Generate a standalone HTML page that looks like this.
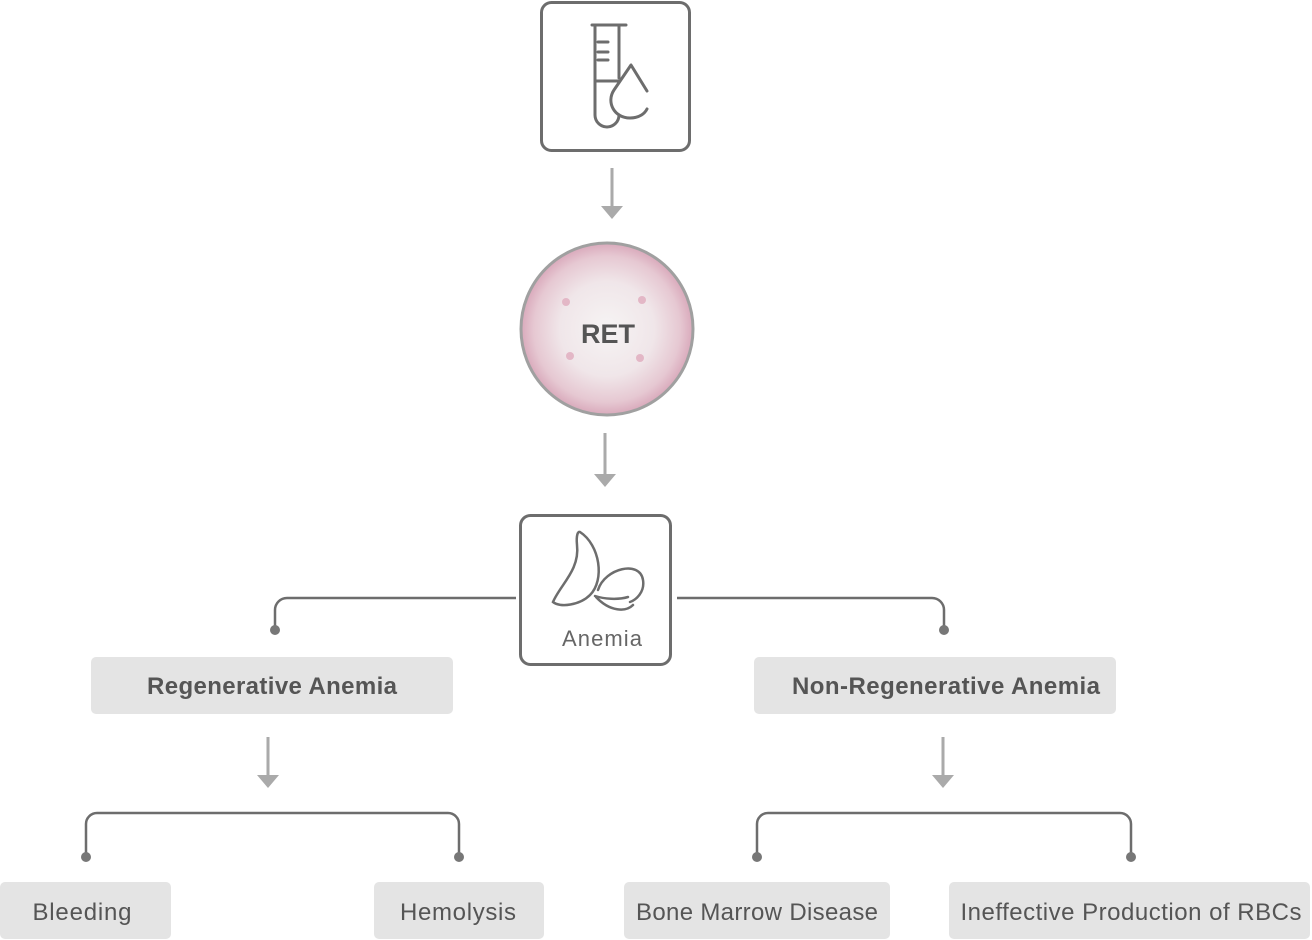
<!DOCTYPE html>
<html><head><meta charset="utf-8"><style>
html,body{margin:0;padding:0;background:#fff;}
svg{display:block;}
text{font-family:"Liberation Sans",sans-serif;}
</style></head><body>
<svg width="1312" height="940" viewBox="0 0 1312 940" xmlns="http://www.w3.org/2000/svg">
<defs>
<radialGradient id="g" cx="50%" cy="50%" r="50%">
<stop offset="0" stop-color="#f6f4f4"/>
<stop offset="0.55" stop-color="#f0e6e9"/>
<stop offset="0.85" stop-color="#e6c8d2"/>
<stop offset="1" stop-color="#d9a9bb"/>
</radialGradient>
</defs>
<rect x="541.5" y="2.5" width="148" height="148" rx="10" fill="#fff" stroke="#6d6d6d" stroke-width="3"/>
<g fill="none" stroke="#6d6d6d" stroke-width="3" stroke-linecap="round" stroke-linejoin="round">
<path d="M592 25 H626 M595 25 V115 a12 12 0 0 0 24 0 M619 25 V78"/>
<path d="M598 42 H608 M598 52 H608 M598 60 H608 M596 81 H618"/>
<path d="M647 91 L631 65 L614 90 C606 102 614 118 630 118 C640 118 645 113 647 109"/>
</g>
<line x1="612" y1="168" x2="612" y2="207" stroke="#aaa" stroke-width="3"/>
<polygon points="601,206 623,206 612,219" fill="#aaa"/>
<circle cx="607" cy="329" r="86" fill="url(#g)" stroke="#a0a0a0" stroke-width="3"/>
<circle cx="566" cy="302" r="4" fill="#e3b7c6"/><circle cx="642" cy="300" r="4" fill="#e3b7c6"/>
<circle cx="570" cy="356" r="4" fill="#e3b7c6"/><circle cx="640" cy="358" r="4" fill="#e3b7c6"/>
<text x="608" y="343" text-anchor="middle" font-size="27" font-weight="bold" fill="#555">RET</text>
<line x1="605" y1="433" x2="605" y2="475" stroke="#aaa" stroke-width="3"/>
<polygon points="594,474 616,474 605,487" fill="#aaa"/>
<rect x="520.5" y="515.5" width="150" height="149" rx="10" fill="#fff" stroke="#6d6d6d" stroke-width="3"/>
<g fill="none" stroke="#6d6d6d" stroke-width="2.5" stroke-linecap="round">
<path d="M580 532 C600 545 605 580 590 595 C580 605 560 608 553 602 C560 585 580 570 577 545 C576 535 578 531 580 532 Z"/>
<path d="M598 590 C605 568 640 560 643 580 C645 592 636 600 630 602 M596 597 C610 612 626 612 633 605 M628 597 C618 600 604 599 595 596"/>
</g>
<text x="602" y="646" text-anchor="middle" font-size="22" fill="#666" textLength="80">Anemia</text>
<g fill="none" stroke="#6d6d6d" stroke-width="2.5">
<path d="M516 598 H287 a12 12 0 0 0 -12 12 V630"/>
<path d="M677 598 H932 a12 12 0 0 1 12 12 V630"/>
<path d="M97 813 H448 a11 11 0 0 1 11 11 V857 M97 813 a11 11 0 0 0 -11 11 V857"/>
<path d="M768 813 H1120 a11 11 0 0 1 11 11 V857 M768 813 a11 11 0 0 0 -11 11 V857"/>
</g>
<g fill="#777">
<circle cx="275" cy="630" r="5"/><circle cx="944" cy="630" r="5"/>
<circle cx="86" cy="857" r="5"/><circle cx="459" cy="857" r="5"/>
<circle cx="757" cy="857" r="5"/><circle cx="1131" cy="857" r="5"/>
</g>
<rect x="91" y="657" width="362" height="57" rx="5" fill="#e4e4e4"/>
<text x="272" y="694" text-anchor="middle" font-size="24" font-weight="bold" fill="#555" textLength="250">Regenerative Anemia</text>
<rect x="754" y="657" width="362" height="57" rx="5" fill="#e4e4e4"/>
<text x="946" y="694" text-anchor="middle" font-size="24" font-weight="bold" fill="#555" textLength="308">Non-Regenerative Anemia</text>
<line x1="268" y1="737" x2="268" y2="776" stroke="#aaa" stroke-width="3"/>
<polygon points="257,775 279,775 268,788" fill="#aaa"/>
<line x1="943" y1="737" x2="943" y2="776" stroke="#aaa" stroke-width="3"/>
<polygon points="932,775 954,775 943,788" fill="#aaa"/>
<g fill="#e4e4e4">
<rect x="0" y="882" width="171" height="57" rx="5"/>
<rect x="374" y="882" width="170" height="57" rx="5"/>
<rect x="624" y="882" width="266" height="57" rx="5"/>
<rect x="949" y="882" width="361" height="57" rx="5"/>
</g>
<g font-size="24" fill="#555" text-anchor="middle">
<text x="82" y="920" textLength="99">Bleeding</text>
<text x="458" y="920" textLength="116">Hemolysis</text>
<text x="757" y="920" textLength="242">Bone Marrow Disease</text>
<text x="1131" y="920" textLength="341">Ineffective Production of RBCs</text>
</g>
</svg>
</body></html>
